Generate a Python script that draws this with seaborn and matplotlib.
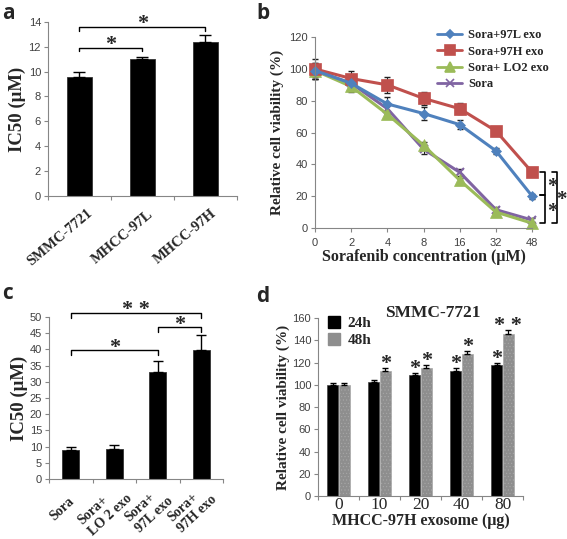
import numpy as np
import pandas as pd
import seaborn as sns
import matplotlib.pyplot as plt
import matplotlib.transforms as mtransforms
from matplotlib.lines import Line2D
from matplotlib.patches import Patch

# panel a
cells = ["SMMC-7721", "MHCC-97L", "MHCC-97H"]
ic50_a = [9.6, 11.0, 12.35]
err_a = [0.4, 0.2, 0.6]

# panel b
conc = ["0", "2", "4", "8", "16", "32", "48"]
groups_b = ["Sora+97L exo", "Sora+97H exo", "Sora+ LO2 exo", "Sora"]
via_97l = [99, 91, 78, 72, 65, 48.5, 20]
via_97h = [100, 94, 90, 81.5, 75, 61, 35]
via_lo2 = [99, 89, 71.5, 52, 30, 10, 3]
via_sora = [99, 91, 75, 49.5, 35, 11.5, 5]
err_97l = [5, 4, 4.5, 4, 3, 2, 1.5]
err_97h = [6, 5, 5, 4, 3.5, 2.5, 1.5]
err_lo2 = [4, 3.5, 2, 2, 1.5, 1.5, 1]
err_sora = [5, 4, 3, 3, 2, 1.5, 1]

# panel c
treat = ["Sora", "Sora+\nLO 2 exo", "Sora+\n97L exo", "Sora+\n97H exo"]
ic50_c = [8.8, 9.2, 32.9, 39.9]
err_c = [1.0, 1.3, 3.5, 4.5]

# panel d
dose = ["0", "10", "20", "40", "80"]
v24 = [99.5, 102.5, 108.5, 112.5, 117.5]
v48 = [99.5, 112.5, 115.5, 127.5, 146]
e24 = [2, 2, 2.5, 2.5, 2]
e48 = [2, 2.5, 2.5, 2.5, 3.5]
star24 = ["", "", "*", "*", "*"]
star48 = ["", "*", "*", "*", "**"]

sns.set_style("white")
plt.rcParams['font.family'] = ['Liberation Sans', 'DejaVu Sans']
plt.rcParams['hatch.linewidth'] = 0.4

SERIF = ['Liberation Serif', 'DejaVu Serif']
SPINE = '#868686'
TICKC = '#404040'


def style_axes(ax):
    sns.despine(ax=ax)
    for s in ['left', 'bottom']:
        ax.spines[s].set_color(SPINE)
        ax.spines[s].set_linewidth(0.8)
    ax.tick_params(axis='y', direction='out', length=3, width=0.8, color=SPINE,
                   labelsize=8, labelcolor=TICKC, left=True, pad=2)


def cat_ticks(ax, n):
    ax.set_xticks(np.arange(n + 1) - 0.5, minor=True)
    ax.tick_params(axis='x', which='minor', length=3, width=0.8, color=SPINE, bottom=True)
    ax.tick_params(axis='x', which='major', length=0, pad=0)


def shift_labels(fig, ax, dx, dy):
    # dx, dy in pixels
    off = mtransforms.ScaledTranslation(dx / 100, dy / 100, fig.dpi_scale_trans)
    for t in ax.get_xticklabels():
        t.set_transform(t.get_transform() + off)


def star(ax, x, y, txt, fs=16):
    # asterisk glyph sits high in the em box, so anchor on the baseline
    ax.annotate(" ".join(txt), (x, y), xytext=(0, -0.37 * fs), textcoords='offset points',
                ha='center', va='baseline', fontsize=fs, fontweight='bold',
                family=SERIF, annotation_clip=False)


def bracket(ax, x1, x2, y, leg, txt, ty):
    ax.plot([x1, x1, x2, x2], [y - leg, y, y, y - leg], color='black', lw=1, clip_on=False)
    star(ax, (x1 + x2) / 2, ty, txt)


fig = plt.figure(figsize=(5.67, 5.39), dpi=100)
ax_a = fig.add_axes([0.0847, 0.6364, 0.333, 0.323])
ax_b = fig.add_axes([0.5556, 0.577, 0.383, 0.354])
ax_c = fig.add_axes([0.0864, 0.1113, 0.307, 0.3006])
ax_d = fig.add_axes([0.561, 0.0798, 0.3616, 0.330])

# ---- a ----
sns.barplot(x=cells, y=ic50_a, color='black', width=0.4, edgecolor='#333333',
            linewidth=0.6, ax=ax_a)
ax_a.errorbar(range(3), ic50_a, yerr=[[0] * 3, err_a], fmt='none', ecolor='black',
              elinewidth=1, capsize=4)
ax_a.set_ylim(0, 14)
ax_a.set_yticks(range(0, 15, 2))
ax_a.set_xlim(-0.5, 2.5)
style_axes(ax_a)
cat_ticks(ax_a, 3)
ax_a.set_xticks(range(3))
ax_a.set_xticklabels(cells, rotation=40, ha='center', va='center', rotation_mode='anchor',
                     family=SERIF, fontweight='bold', fontsize=10.5)
shift_labels(fig, ax_a, -20, -41)
ax_a.set_ylabel("IC50 (μM)", family=SERIF, fontweight='bold', fontsize=13.5, labelpad=2)
bracket(ax_a, 0, 1, 11.93, 0.3, "*", 12.4)
bracket(ax_a, 0, 2, 13.6, 0.3, "*", 14.1)

# ---- b ----
df_b = pd.DataFrame({
    'pos': list(range(len(conc))) * 4,
    'viability': via_97l + via_97h + via_lo2 + via_sora,
    'group': sum([[g] * len(conc) for g in groups_b], []),
})
pal_b = {"Sora+97L exo": '#4F81BD', "Sora+97H exo": '#C0504D',
         "Sora+ LO2 exo": '#9BBB59', "Sora": '#8064A2'}
mk_b = {"Sora+97L exo": 'D', "Sora+97H exo": 's', "Sora+ LO2 exo": '^', "Sora": 'x'}
ms_b = {"Sora+97L exo": 5, "Sora+97H exo": 8, "Sora+ LO2 exo": 8, "Sora": 6}
errs_b = {"Sora+97L exo": err_97l, "Sora+97H exo": err_97h,
          "Sora+ LO2 exo": err_lo2, "Sora": err_sora}
vals_b = {"Sora+97L exo": via_97l, "Sora+97H exo": via_97h,
          "Sora+ LO2 exo": via_lo2, "Sora": via_sora}
for g in groups_b:
    ax_b.errorbar(range(len(conc)), vals_b[g], yerr=errs_b[g], fmt='none',
                  ecolor='#222222', elinewidth=0.8, capsize=2.5, clip_on=False)
for g in groups_b[::-1]:
    sub = df_b[df_b['group'] == g]
    sns.lineplot(data=sub, x='pos', y='viability', color=pal_b[g], marker=mk_b[g],
                 markersize=ms_b[g], markeredgecolor=pal_b[g],
                 markeredgewidth=1.5 if g == "Sora" else 0.5,
                 lw=2.2, ax=ax_b, clip_on=False)
ax_b.set_xlim(0, 6)
ax_b.set_ylim(0, 120)
ax_b.set_yticks(range(0, 121, 20))
ax_b.set_xticks(range(len(conc)))
ax_b.set_xticklabels(conc)
style_axes(ax_b)
ax_b.tick_params(axis='x', direction='out', length=3, width=0.8, color=SPINE,
                 labelsize=8, labelcolor=TICKC, bottom=True, pad=4)
ax_b.set_xlabel("Sorafenib concentration (μM)", family=SERIF, fontweight='bold',
                fontsize=11.5, labelpad=1)
ax_b.set_ylabel("Relative cell viability (%)", family=SERIF, fontweight='bold',
                fontsize=11, labelpad=4)
handles = [Line2D([], [], color=pal_b[g], marker=mk_b[g], markersize=ms_b[g] * 0.9,
                  lw=2, markeredgewidth=1.2) for g in groups_b]
ax_b.legend(handles, groups_b, loc='upper right', bbox_to_anchor=(1.13, 1.1),
            frameon=False, prop={'family': SERIF, 'weight': 'bold', 'size': 9},
            handlelength=2.0, handletextpad=0.5, labelspacing=0.35)
# right side significance
xb1, xb2 = 6.22, 6.35
for y0, y1 in [(35, 20.5), (20.5, 3)]:
    ax_b.plot([xb1, xb2, xb2, xb1], [y0, y0, y1, y1], color='black', lw=1.2, clip_on=False)
star(ax_b, 6.55, 27.5, "*", fs=15)
star(ax_b, 6.55, 11.5, "*", fs=15)
ax_b.plot([6.55, 6.68, 6.68, 6.55], [35, 35, 3, 3], color='black', lw=1.2, clip_on=False)
star(ax_b, 6.82, 19, "*", fs=15)

# ---- c ----
sns.barplot(x=list(range(4)), y=ic50_c, color='black', width=0.4, edgecolor='#333333',
            linewidth=0.6, ax=ax_c)
ax_c.errorbar(range(4), ic50_c, yerr=[[0] * 4, err_c], fmt='none', ecolor='black',
              elinewidth=1, capsize=3.5)
ax_c.set_ylim(0, 50)
ax_c.set_yticks(range(0, 51, 5))
ax_c.set_xlim(-0.5, 3.5)
style_axes(ax_c)
cat_ticks(ax_c, 4)
ax_c.set_xticks(range(4))
ax_c.set_xticklabels(treat, rotation=43, ha='center', va='center', rotation_mode='anchor',
                     multialignment='left', family=SERIF, fontweight='bold',
                     fontsize=10, linespacing=1.2)
shift_labels(fig, ax_c, -9, -30)
ax_c.set_ylabel("IC50 (μM)", family=SERIF, fontweight='bold', fontsize=13.5, labelpad=1)
bracket(ax_c, 0, 2, 39.75, 1.5, "*", 41.4)
bracket(ax_c, 2, 3, 46.9, 1.5, "*", 48.5)
bracket(ax_c, 0, 3, 51.2, 1.5, "**", 53.0)

# ---- d ----
df_d = pd.DataFrame({
    'dose': dose * 2,
    'viability': v24 + v48,
    'time': ['24h'] * len(dose) + ['48h'] * len(dose),
})
sns.barplot(data=df_d, x='dose', y='viability', hue='time', order=dose,
            hue_order=['24h', '48h'], palette={'24h': 'black', '48h': '#8e8e8e'},
            width=0.56, gap=0.05, edgecolor='#444444', linewidth=0.5, ax=ax_d,
            legend=False)
bars = ax_d.patches
for i in range(len(dose)):
    for bar, val, err, st in [(bars[i], v24[i], e24[i], star24[i]),
                              (bars[len(dose) + i], v48[i], e48[i], star48[i])]:
        xc = bar.get_x() + bar.get_width() / 2
        ax_d.errorbar([xc], [val], yerr=[[0], [err]], fmt='none', ecolor='black',
                      elinewidth=0.9, capsize=2.5)
        if st:
            star(ax_d, xc, val + err + 6.5, st)
for bar in bars[len(dose):2 * len(dose)]:
    bar.set_hatch('.....')
    bar.set_edgecolor('#a8a8a8')
ax_d.set_ylim(0, 160)
ax_d.set_yticks(range(0, 161, 20))
ax_d.set_xlim(-0.5, 4.5)
style_axes(ax_d)
cat_ticks(ax_d, 5)
ax_d.tick_params(axis='x', labelsize=12.5, pad=1)
for t in ax_d.get_xticklabels():
    t.set_family(SERIF)
ax_d.set_xlabel("MHCC-97H exosome (μg)", family=SERIF, fontweight='bold',
                fontsize=11.5, labelpad=0)
ax_d.set_ylabel("Relative cell viability (%)", family=SERIF, fontweight='bold',
                fontsize=11, labelpad=2)
ax_d.set_title("SMMC-7721", family=SERIF, fontweight='bold', fontsize=12.5,
               pad=1, x=0.56)
ax_d.legend([Patch(color='black'), Patch(color='#8e8e8e')], ['24h', '48h'],
            loc='upper left', bbox_to_anchor=(-0.02, 1.09), frameon=False,
            prop={'family': SERIF, 'weight': 'bold', 'size': 11},
            handlelength=0.8, handleheight=0.8, handletextpad=0.5, labelspacing=0.2)

# panel letters
for lbl, (x, y) in zip("abcd", [(0.003, 0.965), (0.452, 0.965), (0.003, 0.445), (0.452, 0.44)]):
    fig.text(x, y, lbl, fontsize=15, fontweight='bold', family=['Open Sans', 'DejaVu Sans'])

fig.savefig("out.png", dpi=100)
